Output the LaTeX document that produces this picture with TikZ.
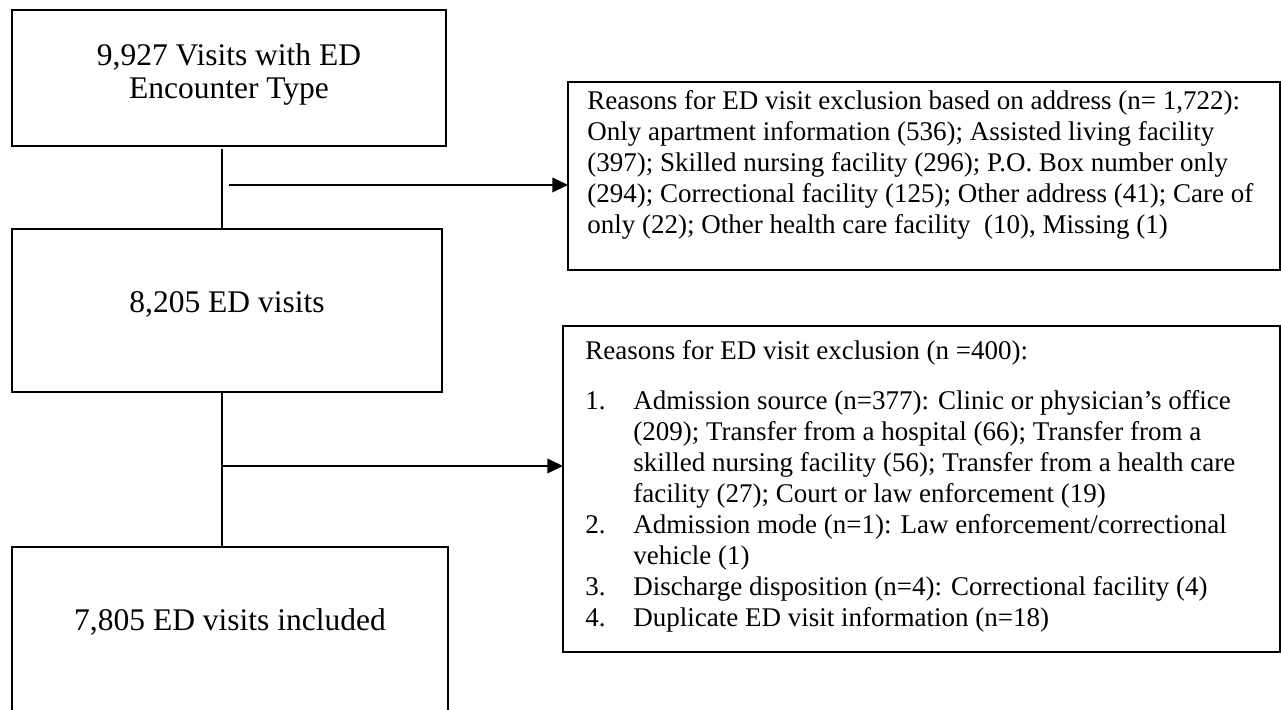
\documentclass[tikz,border=0pt]{standalone}
\usepackage{fontspec}
\setmainfont{Liberation Serif}
\usetikzlibrary{arrows.meta}
\begin{document}
\begin{tikzpicture}[x=0.4444pt,y=-0.4444pt,
  box/.style={draw, line width=0.9pt, anchor=north west, inner sep=0pt, outer sep=0pt},
  conn/.style={line width=0.6pt},
  arr/.style={line width=0.9pt, -{Triangle[length=7pt,width=6.5pt]}},
  bigtxt/.style={inner sep=0pt, font=\fontsize{14}{14.7}\selectfont, anchor=north},
  smalltxt/.style={inner sep=0pt, font=\fontsize{12}{13.8}\selectfont, anchor=north west}]
\path[use as bounding box, clip] (0,0) rectangle (1281,710);
% left column boxes
\node[box, minimum width=434*0.4444pt, minimum height=136*0.4444pt] (box1) at (12,10) {};
\node[box, minimum width=430*0.4444pt, minimum height=163*0.4444pt] (box2) at (12,229) {};
\node[box, minimum width=436*0.4444pt, minimum height=220*0.4444pt] (box3) at (12,547) {};
% right boxes
\node[box, minimum width=712*0.4444pt, minimum height=188*0.4444pt] (r1) at (568,82) {};
\node[box, minimum width=717*0.4444pt, minimum height=326*0.4444pt] (r2) at (563,326) {};
% texts
\node[bigtxt] (t1) at (229,42) {\begin{tabular}{@{}c@{}}9,927 Visits with ED\\Encounter Type\end{tabular}};
\node[bigtxt] (t2) at (227,289) {\begin{tabular}{@{}c@{}}8,205 ED visits\end{tabular}};
\node[bigtxt] (t3) at (230,607) {\begin{tabular}{@{}c@{}}7,805 ED visits included\end{tabular}};
\node[smalltxt] (t4) at (587,87) {\begin{tabular}{@{}l@{}}
Reasons for ED visit exclusion based on address (n= 1,722):\\
Only apartment information (536); Assisted living facility\\
(397); Skilled nursing facility (296); P.O. Box number only\\
(294); Correctional facility (125); Other address (41); Care of\\
only (22); Other health care facility~ (10), Missing (1)
\end{tabular}};
\node[smalltxt] (t5) at (585,337) {\begin{tabular}{@{}p{21.3pt}@{}l@{}}
\multicolumn{2}{@{}l@{}}{Reasons for ED visit exclusion (n =400):}\\[8.5pt]
1. & Admission source (n=377): Clinic or physician’s office\\
 & (209); Transfer from a hospital (66); Transfer from a\\
 & skilled nursing facility (56); Transfer from a health care\\
 & facility (27); Court or law enforcement (19)\\
2. & Admission mode (n=1): Law enforcement/correctional\\
 & vehicle (1)\\
3. & Discharge disposition (n=4): Correctional facility (4)\\
4. & Duplicate ED visit information (n=18)
\end{tabular}};
% connectors
\coordinate (vx) at (222,0);
\draw[conn, shorten <=1.5pt] (box1.south -| vx) -- (box2.north -| vx);
\draw[conn] (box2.south -| vx) -- (box3.north -| vx);
\coordinate (a1) at (229,185);
\draw[arr] (a1) -- (a1 -| r1.west);
\coordinate (a2) at (222,466);
\draw[arr] (a2) -- (a2 -| r2.west);
\end{tikzpicture}
\end{document}
